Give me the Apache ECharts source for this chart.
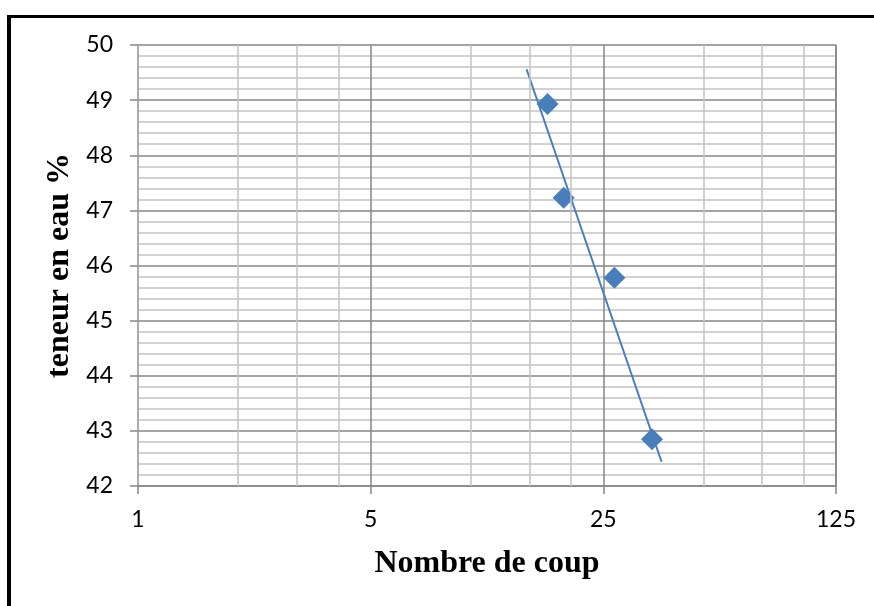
<!DOCTYPE html>
<html>
<head>
<meta charset="utf-8">
<script src="https://cdn.jsdelivr.net/npm/echarts@6/dist/echarts.min.js"></script>
<style>
  html, body { margin: 0; padding: 0; background: #fff; }
  #chart { width: 874px; height: 606px; }
</style>
</head>
<body>
<div id="chart"></div>
<script>
// Blow counts and the matching water contents
const blows = [17, 19, 27, 35];
const waterContent = [48.93, 47.23, 45.78, 42.85];

// Logarithmic trendline, end points (blows, water content)
const trendBlows = [14.7, 37.4];
const trendWater = [49.56, 42.44];

// Axis settings
const xTicks = [1, 5, 25, 125];
const xMinorGrid = [2, 3, 4, 10, 15, 20, 50, 75, 100];
const yMin = 42, yMax = 50, yStep = 1;

const labelFont = 'Lato, "Open Sans", sans-serif';
const titleFont = '"Liberation Serif", "Times New Roman", serif';

const chart = echarts.init(document.getElementById('chart'), null, { renderer: 'canvas' });

chart.setOption({
  animation: false,
  backgroundColor: '#ffffff',
  graphic: [
    { type: 'rect', shape: { x: 7, y: 15, width: 4, height: 600 }, style: { fill: '#000' }, silent: true },
    { type: 'rect', shape: { x: 7, y: 15, width: 867, height: 3 }, style: { fill: '#000' }, silent: true }
  ],
  grid: { left: 138, right: 38, top: 45, bottom: 120, containLabel: false },
  xAxis: {
    type: 'log',
    logBase: 5,
    min: xTicks[0],
    max: xTicks[xTicks.length - 1],
    name: 'Nombre de coup',
    nameLocation: 'middle',
    nameGap: 62,
    nameTextStyle: { fontFamily: titleFont, fontWeight: 'bold', fontSize: 32, color: '#000' },
    axisLine: { show: true, lineStyle: { color: '#868686', width: 1.5 } },
    axisTick: { show: true, length: 8, lineStyle: { color: '#868686', width: 1.5 } },
    axisLabel: {
      fontFamily: labelFont, fontSize: 23, color: '#000', margin: 22,
      formatter: v => String(Math.round(v))
    },
    splitLine: { show: true, lineStyle: { color: '#868686', width: 1.5 } },
    minorTick: { show: false },
    minorSplitLine: { show: false }
  },
  yAxis: {
    type: 'value',
    min: yMin,
    max: yMax,
    interval: yStep,
    name: 'teneur en eau %',
    nameLocation: 'middle',
    nameGap: 54,
    nameRotate: 90,
    nameTextStyle: { fontFamily: titleFont, fontWeight: 'bold', fontSize: 32, color: '#000' },
    axisLine: { show: true, lineStyle: { color: '#b0b0b0', width: 1.5 } },
    axisTick: { show: true, length: 8, lineStyle: { color: '#868686', width: 1.5 } },
    axisLabel: { fontFamily: labelFont, fontSize: 23, color: '#000', margin: 25 },
    splitLine: { show: true, lineStyle: { color: '#868686', width: 1.5 } },
    minorTick: { show: false, splitNumber: 5 },
    minorSplitLine: { show: true, lineStyle: { color: '#c3c3c3', width: 1.5 } }
  },
  series: [
    {
      // light vertical grid lines between the powers of five
      type: 'line',
      data: [],
      silent: true,
      z: 1,
      markLine: {
        silent: true,
        symbol: ['none', 'none'],
        label: { show: false },
        lineStyle: { color: '#c3c3c3', width: 1.5, type: 'solid' },
        data: xMinorGrid.map(v => ({ xAxis: v }))
      }
    },
    {
      name: 'teneur',
      type: 'scatter',
      data: blows.map((b, i) => [b, waterContent[i]]),
      symbol: 'diamond',
      symbolSize: 22,
      itemStyle: { color: '#4a7ebb', opacity: 1 },
      z: 3
    },
    {
      name: 'trend',
      type: 'line',
      data: trendBlows.map((b, i) => [b, trendWater[i]]),
      symbol: 'none',
      lineStyle: { color: '#4a7ebb', width: 2 },
      z: 4
    }
  ]
});
</script>
</body>
</html>
